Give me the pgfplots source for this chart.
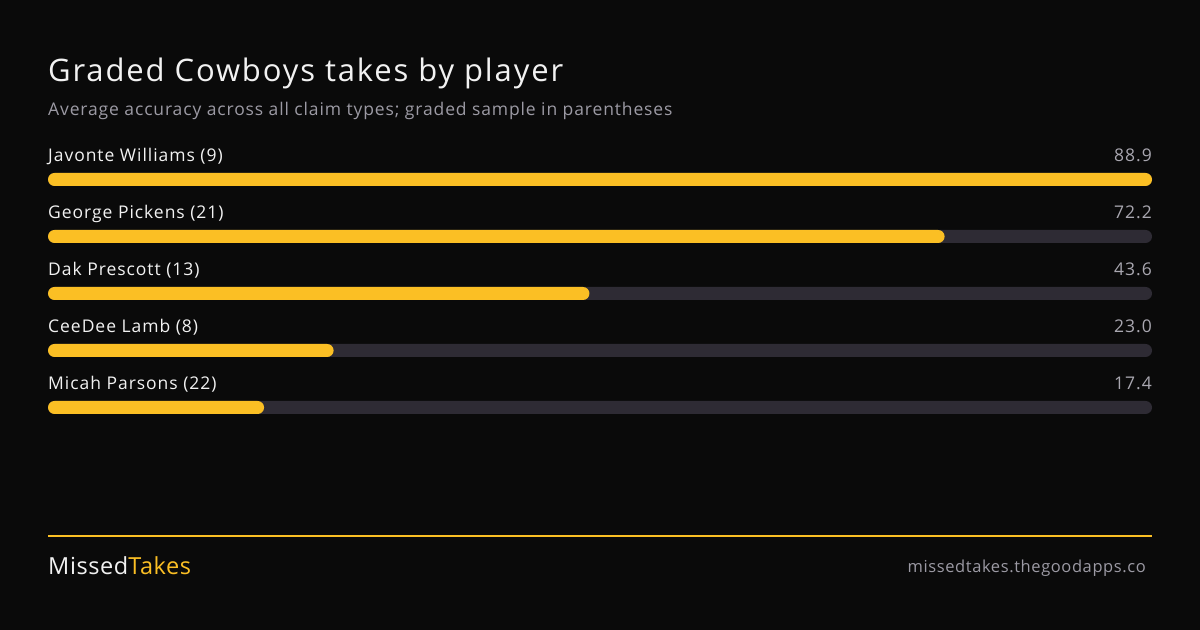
\documentclass[border=0pt]{standalone}
\usepackage{pgfplots}
\pgfplotsset{compat=1.18}
\usepackage{fontspec}
\setmainfont{Open Sans}
\newfontfamily\titlefont[LetterSpace=6]{Open Sans}
\newfontfamily\subfont[LetterSpace=5]{Open Sans}
\newfontfamily\labfont[LetterSpace=5.5]{Open Sans}
\newfontfamily\brandfont[LetterSpace=2.5]{Open Sans}
\newfontfamily\urlfont[LetterSpace=3.6]{Open Sans}
\definecolor{bg}{HTML}{0A0A0A}
\definecolor{gold}{HTML}{FBBF24}
\definecolor{track}{HTML}{2E2B34}
\definecolor{txt}{HTML}{F2F2F2}
\definecolor{sub}{HTML}{9C9AA4}
\definecolor{val}{HTML}{A9A7B0}
\begin{document}
\begin{tikzpicture}[x=1bp,y=1bp]
\fill[bg] (0,0) rectangle (1200,630);
\begin{axis}[
  at={(48bp,0bp)}, anchor=south west,
  scale only axis, width=1104bp, height=630bp,
  xmin=0, xmax=88.9, ymin=0, ymax=630,
  hide axis, clip=false,
  xbar, bar width=13bp, bar shift=0pt,
]
\addplot[fill=track, draw=none, rounded corners=6.5bp] coordinates {
 (88.9,450.5) (88.9,393.5) (88.9,336.5) (88.9,279.5) (88.9,222.5)};
\addplot[fill=gold, draw=none, rounded corners=6.5bp] coordinates {
 (88.9,450.5) (72.2,393.5) (43.6,336.5) (23.0,279.5) (17.4,222.5)};
\end{axis}
\node[anchor=base west, inner sep=0, text=txt, font=\titlefont\fontsize{31bp}{36bp}\selectfont] at (48,548) {Graded Cowboys takes by player};
\node[anchor=base west, inner sep=0, text=sub, font=\subfont\fontsize{17.5bp}{20bp}\selectfont] at (48,514) {Average accuracy across all claim types; graded sample in parentheses};
\foreach \n/\v/\y in {Javonte Williams (9)/88.9/468, George Pickens (21)/72.2/411, Dak Prescott (13)/43.6/354, CeeDee Lamb (8)/23.0/297, Micah Parsons (22)/17.4/240}{
  \node[anchor=base west, inner sep=0, text=txt, font=\labfont\fontsize{17.5bp}{20bp}\selectfont] at (48,\y) {\n};
  \node[anchor=base east, inner sep=0, text=val, font=\labfont\fontsize{17.5bp}{20bp}\selectfont] at (1152,\y) {\v};
}
\draw[gold, line width=2bp] (48,94) -- (1152,94);
\node[anchor=base west, inner sep=0, font=\brandfont\fontsize{23.5bp}{28bp}\selectfont] at (48,55) {\textcolor{txt}{Missed}\textcolor{gold}{Takes}};
\node[anchor=base east, inner sep=0, text=sub, font=\urlfont\fontsize{16.5bp}{20bp}\selectfont] at (1146,57) {missedtakes.thegoodapps.co};
\end{tikzpicture}
\end{document}
